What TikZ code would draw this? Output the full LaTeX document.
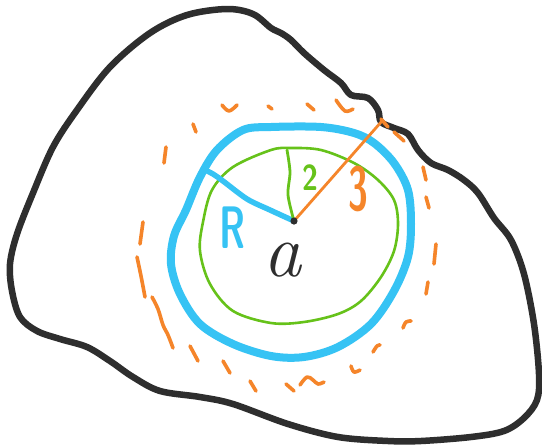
\documentclass[tikz,border=0pt]{standalone}
\usepackage{fontspec}
\usepackage{graphicx}
\definecolor{inkblack}{HTML}{2E2E2E}
\definecolor{skyblue}{HTML}{36C3F4}
\definecolor{leaf}{HTML}{66C21A}
\definecolor{tangerine}{HTML}{F5852A}
\begin{document}
\begin{tikzpicture}[x=1pt,y=-1pt,line cap=round,line join=round,
  outline/.style={draw=inkblack,line width=6.5pt},
  bluering/.style={draw=skyblue,line width=8pt},
  greenring/.style={draw=leaf,line width=2.6pt},
  dashbit/.style={draw=tangerine,line width=3.6pt},
  bluerad/.style={draw=skyblue,line width=5.5pt},
  greenrad/.style={draw=leaf,line width=2.8pt},
  orangerad/.style={draw=tangerine,line width=2.8pt},
  lbl/.style={inner sep=0pt,outer sep=0pt}]
\useasboundingbox (0,0) rectangle (542,448);
\fill[white] (0,0) rectangle (542,448);

% outer blob
\draw[outline] plot[smooth cycle,tension=0.55] coordinates {
 (227,9) (253,14) (271,28) (281,33) (291,40) (304,53) (324,70) (341,83)
 (351,95) (368,98) (378,110) (381,122) (394,128) (408,134) (418,150)
 (431,163) (448,170) (464,180) (478,193) (494,218) (511,240) (524,274)
 (534,324) (539,374) (537,400) (524,418) (504,431) (471,437) (421,441)
 (388,441) (338,437) (288,424) (233,404) (200,397) (160,391) (133,377)
 (110,361) (87,347) (60,339) (37,331) (20,317) (12,291) (10,264) (17,234)
 (33,193) (53,147) (77,110) (110,67) (150,33) (187,15)};

% orange dashed ring (hand-drawn dashes)
\foreach \pts in {
 {(222,105) (229,111) (237,105)},
 {(268,106) (272,109)},
 {(307,104) (314,110)},
 {(336,100) (345,111) (353,109)},
 {(381,119) (388,127)},
 {(394,132) (404,141)},
 {(423,167) (426,180)},
 {(426,197) (429,208)},
 {(436,244) (434,264)},
 {(428,282) (426,294)},
 {(403,328) (406,322) (411,321)},
 {(373,352) (377,346) (380,345)},
 {(351,366) (354,372) (360,370)},
 {(300,385) (307,377) (313,380) (318,384) (324,382)},
 {(286,384) (294,391)},
 {(250,381) (256,391)},
 {(223,361) (230,373)},
 {(190,346) (198,361)},
 {(152,297) (158,309) (163,325) (168,335) (173,348)},
 {(137,257) (141,276) (145,297)},
 {(143,222) (140,244)},
 {(193,124) (196,132)},
 {(166,147) (164,163)}}
 {\draw[dashbit] plot[smooth,tension=0.6] coordinates \pts;}

% blue ring
\draw[bluering] plot[smooth cycle,tension=0.55] coordinates {
 (271,127) (321,127) (354,133) (374,143) (394,163) (408,190) (411,224)
 (408,257) (394,291) (371,324) (338,347) (304,357) (271,356) (233,344)
 (200,324) (180,294) (171,264) (174,236) (186,210) (200,177) (217,150)
 (243,130)};

% green ring
\draw[greenring] plot[smooth cycle,tension=0.55] coordinates {
 (271,150) (291,148) (321,150) (354,163) (378,180) (394,200) (398,224)
 (394,251) (381,277) (361,301) (338,314) (304,322) (271,323) (233,311)
 (210,284) (200,251) (203,222) (212,190) (233,167)};

% centre and radii
\coordinate (ctr) at (294,221);
\coordinate (bEnd) at (203,169);
\coordinate (gEnd) at (287,150);
\coordinate (oEnd) at (382,121);
\draw[bluerad] plot[smooth,tension=0.5] coordinates {(ctr) (270,210) (247,199) (223,181) (213,174) (bEnd)};
\draw[greenrad] plot[smooth,tension=0.5] coordinates {(ctr) (288,195) (290,172) (gEnd)};
\draw[orangerad] (ctr) -- (oEnd);
\fill[inkblack] (ctr) circle (3.6);

% labels
\node[lbl,text=skyblue,font=\sffamily\bfseries\fontsize{60}{60}\selectfont] (labR) at (233,228) {\scalebox{0.62}[1]{R}};
\node[lbl,text=leaf,font=\sffamily\bfseries\fontsize{36}{36}\selectfont] (lab2) at (310,178) {\scalebox{0.8}[1]{2}};
\node[lbl,text=tangerine,font=\sffamily\bfseries\fontsize{62}{62}\selectfont] (lab3) at (358,189) {\scalebox{0.58}[1]{3}};
\node[lbl,text=inkblack,font=\itshape\fontsize{76}{76}\selectfont] (laba) at (282,260) {a};
\end{tikzpicture}
\end{document}
